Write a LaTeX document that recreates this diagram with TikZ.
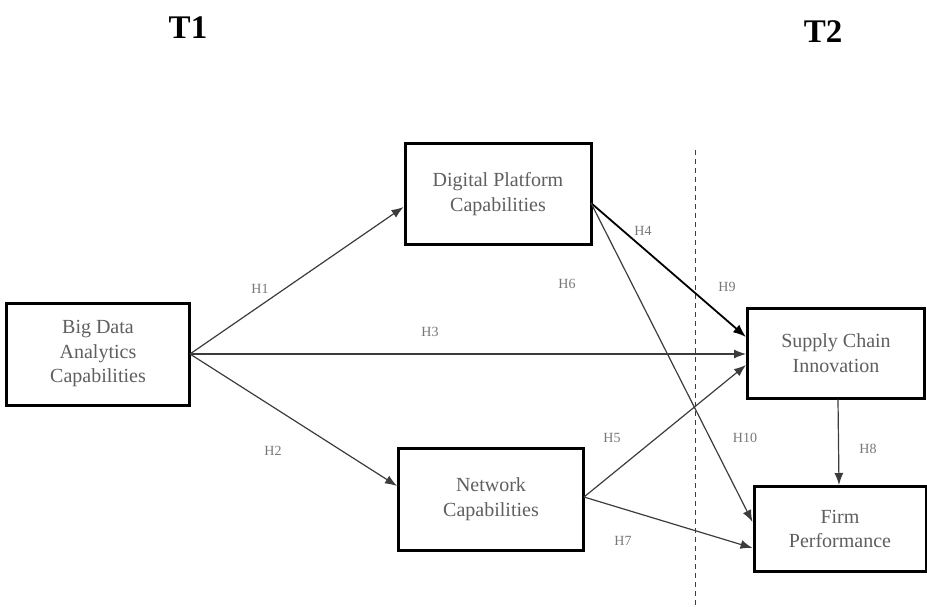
\documentclass[tikz,border=0pt]{standalone}
\usepackage{fontspec}
\setmainfont{Liberation Serif}
\usetikzlibrary{arrows.meta}
\definecolor{txtgray}{RGB}{95,95,95}
\definecolor{lblgray}{RGB}{120,120,120}
\definecolor{lngray}{RGB}{60,60,60}
\tikzset{
  boxnode/.style={draw=black, line width=3pt, fill=white, align=center, inner sep=0pt,
    text=txtgray, font=\fontsize{20}{24.5}\selectfont},
  arr/.style={draw=lngray, line width=1.2pt, -{Latex[length=12pt,width=9pt]}},
  arrb/.style={draw=black, line width=1.8pt, -{Latex[length=13pt,width=10pt]}},
  hlbl/.style={text=lblgray, font=\fontsize{14}{16}\selectfont, inner sep=1pt},
  tlbl/.style={font=\bfseries\fontsize{33}{36}\selectfont}
}
\begin{document}
\begin{tikzpicture}[x=1pt,y=-1pt]
\useasboundingbox (0,0) rectangle (927,607);
\draw[lngray, line width=0.9pt, dash pattern=on 5pt off 4pt] (695,150) coordinate (dtop) -- (695,607) coordinate (dbot);
\node[tlbl] (t1) at (188,28) {T1};
\node[tlbl] (t2) at (823,32) {T2};
\node[boxnode, minimum width=183pt, minimum height=102pt] (bda) at (98,354) {Big Data\\Analytics\\Capabilities};
\node[boxnode, minimum width=186pt, minimum height=101pt] (dpc) at (498,194) {Digital Platform\\Capabilities};
\node[boxnode, minimum width=177pt, minimum height=90pt] (sci) at (836,353) {Supply Chain\\Innovation};
\node[boxnode, minimum width=185pt, minimum height=102pt] (nc) at (491,499) {Network\\Capabilities};
\node[boxnode, minimum width=172pt, minimum height=85pt] (fp) at (840,529) {Firm\\Performance};
\coordinate (bdaR) at (190,354);
\coordinate (dpcR) at (591,203);
\coordinate (ncR) at (584,497);
\draw[arr] (bdaR) -- (dpc.west |- 0,207);
\draw[arr] (bdaR) -- (nc.west |- 0,486);
\draw[arr] (bdaR) -- (sci.west |- 0,354);
\draw[arrb] (dpcR) -- (sci.west |- 0,337);
\draw[arr] (dpcR) -- (fp.west |- 0,522);
\draw[arr] (ncR) -- (sci.west |- 0,365);
\draw[arr] (ncR) -- (fp.west |- 0,548);
\draw[arr] (sci.south -| 838,0) -- (fp.north -| 839,0);
\node[hlbl] (h1) at (260,289) {H1};
\node[hlbl] (h2) at (273,451) {H2};
\node[hlbl] (h3) at (430,332) {H3};
\node[hlbl] (h4) at (643,231) {H4};
\node[hlbl] (h6) at (567,284) {H6};
\node[hlbl] (h9) at (727,287) {H9};
\node[hlbl] (h5) at (612,438) {H5};
\node[hlbl] (h10) at (745,438) {H10};
\node[hlbl] (h8) at (868,449) {H8};
\node[hlbl] (h7) at (623,541) {H7};
\end{tikzpicture}
\end{document}
